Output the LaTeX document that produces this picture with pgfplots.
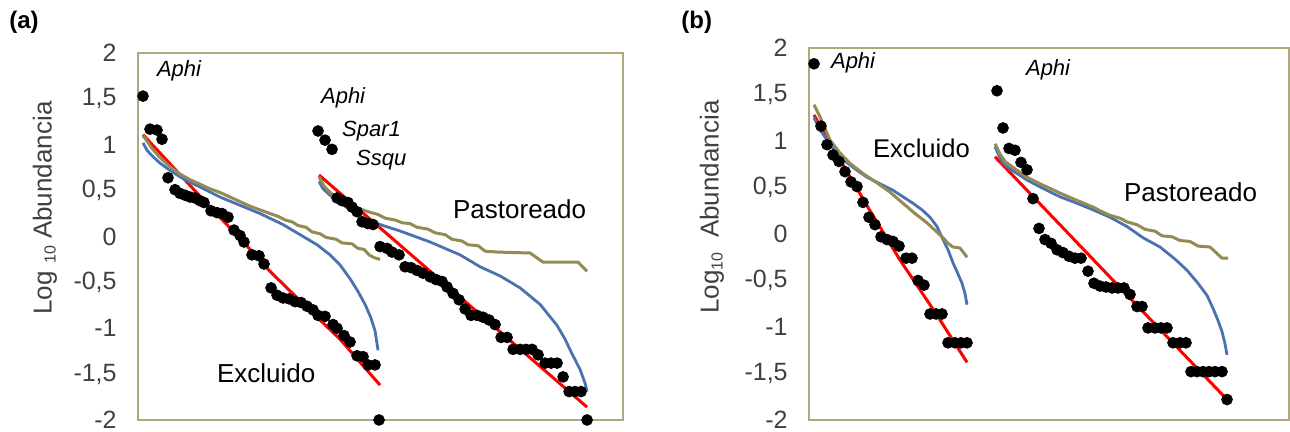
\documentclass[border=0pt]{standalone}
\usepackage{pgfplots}
\pgfplotsset{compat=1.18}
\usepackage{fontspec}
\setmainfont{Liberation Sans}
\definecolor{framec}{RGB}{176,168,126}
\definecolor{fitblue}{RGB}{74,114,176}
\definecolor{fitolive}{RGB}{148,138,84}
\definecolor{fitred}{RGB}{255,0,0}
\definecolor{tickc}{RGB}{64,64,64}

\pgfplotsset{
  panel/.style={scale only axis, clip=false, anchor=south west,
    ymin=-2, ymax=2, ytick={-2,-1.5,-1,-0.5,0,0.5,1,1.5,2},
    yticklabels={{-2},{-1,5},{-1},{-0,5},{0},{0,5},{1},{1,5},{2}},
    xtick=\empty, major tick length=0pt,
    axis line style={draw=framec, line width=0.8pt},
    yticklabel style={font=\fontsize{12.5}{12.5}\selectfont, text=tickc, anchor=east, inner sep=0pt, xshift=-10.5pt}},
  dots/.style={only marks, mark=*, mark size=2.7pt, black, mark options={fill=black, draw=black}},
  fr/.style={no marks, fitred, line width=1.5pt, line join=round},
  fb/.style={no marks, fitblue, line width=1.4pt, line join=round},
  fo/.style={no marks, fitolive, line width=1.5pt, line join=round},
}

\begin{document}
\begin{tikzpicture}
\path[use as bounding box] (0,0) rectangle (645pt,216pt);

% ---------------- panel (a) ----------------
\begin{axis}[panel, at={(69pt,6pt)}, width=242.5pt, height=183.5pt, xmin=138, xmax=623]
% Excluido fits
\addplot[fr] coordinates {(143,1.11)(205,0.38)(245,-0.08)(270,-0.38)(300,-0.70)(340,-1.12)(380,-1.62)};
\addplot[fb] coordinates {(143,1.02)(147,0.94)(152,0.88)(160,0.80)(170,0.72)(180,0.65)(190,0.59)(200,0.54)(220,0.43)(240,0.34)(260,0.25)(283,0.13)(300,0.02)(317,-0.09)(330,-0.20)(340,-0.31)(350,-0.46)(358,-0.60)(365,-0.74)(371,-0.89)(375,-1.03)(378,-1.24)};
\addplot[fo] coordinates {(143,1.10)(147,1.04)(152,0.96)(160,0.86)(170,0.76)(180,0.68)(190,0.62)(200,0.57)(210,0.52)(220,0.48)(230,0.43)(240,0.38)(250,0.33)(260,0.29)(270,0.25)(278,0.22)(285,0.18)(292,0.16)(298,0.12)(306,0.10)(312,0.05)(320,0.03)(326,-0.01)(336,-0.03)(342,-0.07)(352,-0.08)(358,-0.13)(364,-0.14)(369,-0.20)(374,-0.23)(380,-0.25)};
% Pastoreado fits
\addplot[fr] coordinates {(319,0.67)(587,-1.86)};
\addplot[fb] coordinates {(319,0.60)(323,0.52)(330,0.45)(340,0.37)(350,0.29)(360,0.22)(380,0.13)(400,0.06)(430,-0.06)(460,-0.20)(480,-0.33)(500,-0.43)(520,-0.56)(540,-0.74)(557,-0.97)(565,-1.12)(572,-1.28)(580,-1.45)(585,-1.60)(587,-1.69)};
\addplot[fo] coordinates {(319,0.65)(324,0.55)(330,0.48)(337,0.42)(345,0.38)(352,0.33)(360,0.30)(368,0.27)(378,0.24)(385,0.20)(395,0.18)(402,0.15)(410,0.14)(417,0.10)(428,0.08)(435,0.04)(445,0.02)(452,-0.03)(462,-0.05)(468,-0.09)(478,-0.10)(485,-0.16)(498,-0.17)(530,-0.18)(543,-0.28)(578,-0.28)(587,-0.38)};
% observed
\addplot[dots] coordinates {(143,1.53)(150,1.17)(157,1.16)(162,1.06)(168,0.64)(175,0.51)(180,0.47)(185,0.45)(190,0.43)(195,0.42)(200,0.39)(204,0.37)(211,0.28)(217,0.26)(222,0.25)(228,0.21)(234,0.07)(240,0.01)(244,-0.06)(252,-0.20)(259,-0.21)(264,-0.30)(271,-0.56)(277,-0.64)(283,-0.67)(289,-0.68)(295,-0.71)(301,-0.72)(307,-0.76)(313,-0.80)(318,-0.86)(325,-0.87)(333,-0.96)(337,-1.00)(344,-1.08)(350,-1.15)(357,-1.30)(363,-1.31)(368,-1.40)(375,-1.40)(379,-2.00)};
\addplot[dots] coordinates {(318,1.15)(325,1.05)(332,0.95)(337,0.42)(342,0.39)(348,0.37)(352,0.32)(357,0.27)(362,0.16)(368,0.14)(373,0.13)(380,-0.11)(387,-0.13)(392,-0.17)(399,-0.20)(405,-0.33)(411,-0.34)(417,-0.37)(423,-0.40)(430,-0.44)(436,-0.47)(442,-0.49)(447,-0.55)(453,-0.62)(459,-0.69)(465,-0.79)(471,-0.86)(477,-0.86)(483,-0.88)(489,-0.91)(495,-0.96)(501,-1.10)(507,-1.10)(513,-1.23)(520,-1.23)(526,-1.23)(532,-1.23)(538,-1.29)(545,-1.38)(551,-1.38)(557,-1.38)(563,-1.53)(569,-1.69)(575,-1.69)(581,-1.69)(587,-2.00)};
\node[anchor=west, font=\itshape\fontsize{11}{11}\selectfont] at (axis cs:150,1.81) {Aphi};
\node[anchor=west, font=\itshape\fontsize{11}{11}\selectfont] at (axis cs:314,1.51) {Aphi};
\node[anchor=west, font=\itshape\fontsize{11}{11}\selectfont] at (axis cs:335,1.15) {Spar1};
\node[anchor=west, font=\itshape\fontsize{11}{11}\selectfont] at (axis cs:349,0.83) {Ssqu};
\node[anchor=west, font=\fontsize{13}{13}\selectfont] at (axis cs:446,0.30) {Pastoreado};
\node[anchor=west, font=\fontsize{13}{13}\selectfont] at (axis cs:210,-1.49) {Excluido};
\end{axis}

% ---------------- panel (b) ----------------
\begin{axis}[panel, at={(404.5pt,6pt)}, width=240pt, height=186pt, xmin=809, xmax=1289]
\addplot[fr] coordinates {(814,1.28)(840,0.80)(870,0.25)(900,-0.28)(935,-0.84)(967,-1.38)};
\addplot[fb] coordinates {(814,1.25)(820,1.12)(827,1.01)(835,0.90)(843,0.80)(855,0.70)(867,0.61)(880,0.54)(893,0.47)(903,0.40)(913,0.33)(922,0.26)(930,0.18)(937,0.08)(943,-0.06)(948,-0.17)(953,-0.31)(958,-0.43)(962,-0.53)(965,-0.64)(967,-0.76)};
\addplot[fo] coordinates {(814,1.39)(820,1.26)(830,1.01)(840,0.87)(850,0.76)(863,0.65)(877,0.55)(890,0.45)(903,0.33)(915,0.22)(927,0.12)(935,0.04)(943,-0.04)(948,-0.10)(953,-0.14)(960,-0.15)(967,-0.25)};
\addplot[fr] coordinates {(995,0.83)(1227,-1.78)};
\addplot[fb] coordinates {(995,0.94)(999,0.84)(1003,0.76)(1010,0.70)(1027,0.58)(1043,0.49)(1060,0.40)(1077,0.33)(1093,0.26)(1110,0.18)(1127,0.08)(1143,-0.04)(1160,-0.14)(1175,-0.27)(1187,-0.39)(1198,-0.53)(1207,-0.66)(1213,-0.80)(1218,-0.93)(1222,-1.05)(1225,-1.18)(1227,-1.30)};
\addplot[fo] coordinates {(995,0.97)(1000,0.86)(1005,0.78)(1015,0.70)(1027,0.61)(1040,0.54)(1060,0.44)(1075,0.37)(1093,0.29)(1100,0.25)(1110,0.20)(1120,0.17)(1127,0.13)(1137,0.10)(1145,0.05)(1155,0.03)(1162,-0.02)(1172,-0.03)(1180,-0.07)(1190,-0.08)(1198,-0.13)(1210,-0.14)(1218,-0.22)(1222,-0.26)(1228,-0.26)};
\addplot[dots] coordinates {(814,1.83)(821,1.16)(827,0.96)(833,0.85)(839,0.78)(845,0.67)(851,0.56)(857,0.51)(863,0.34)(869,0.18)(875,0.10)(881,-0.03)(887,-0.06)(893,-0.08)(899,-0.13)(906,-0.26)(912,-0.26)(918,-0.50)(924,-0.55)(930,-0.86)(936,-0.86)(942,-0.86)(948,-1.17)(955,-1.17)(961,-1.17)(967,-1.17)};
\addplot[dots] coordinates {(997,1.54)(1003,1.14)(1009,0.92)(1015,0.90)(1021,0.77)(1027,0.69)(1033,0.38)(1039,0.06)(1045,-0.06)(1051,-0.10)(1057,-0.17)(1063,-0.20)(1069,-0.24)(1075,-0.26)(1081,-0.26)(1088,-0.40)(1094,-0.53)(1100,-0.56)(1106,-0.57)(1112,-0.58)(1118,-0.58)(1124,-0.58)(1130,-0.65)(1137,-0.78)(1142,-0.78)(1148,-1.01)(1155,-1.01)(1161,-1.01)(1167,-1.01)(1173,-1.17)(1180,-1.17)(1186,-1.17)(1191,-1.48)(1197,-1.48)(1203,-1.48)(1209,-1.48)(1215,-1.48)(1222,-1.48)(1227,-1.78)};
\node[anchor=west, font=\itshape\fontsize{11}{11}\selectfont] at (axis cs:824,1.84) {Aphi};
\node[anchor=west, font=\itshape\fontsize{11}{11}\selectfont] at (axis cs:1019,1.76) {Aphi};
\node[anchor=west, font=\fontsize{12.8}{12.8}\selectfont] at (axis cs:866,0.92) {Excluido};
\node[anchor=west, font=\fontsize{13}{13}\selectfont] at (axis cs:1117,0.45) {Pastoreado};
\end{axis}

% panel labels and y labels
\node[anchor=west, font=\bfseries\fontsize{12}{12}\selectfont, inner sep=0pt] at (4.5pt,205pt) {(a)};
\node[anchor=west, font=\bfseries\fontsize{12}{12}\selectfont, inner sep=0pt] at (340.5pt,205pt) {(b)};
\node[rotate=90, text=tickc, font=\fontsize{13}{13}\selectfont] at (22.5pt,112pt) {Log {\fontsize{8}{8}\selectfont\raisebox{-2pt}{10}} Abundancia};
\node[rotate=90, text=tickc, font=\fontsize{13}{13}\selectfont] at (356pt,112.5pt) {Log\raisebox{-2pt}{\fontsize{8}{8}\selectfont 10}\ \ Abundancia};
\end{tikzpicture}
\end{document}
